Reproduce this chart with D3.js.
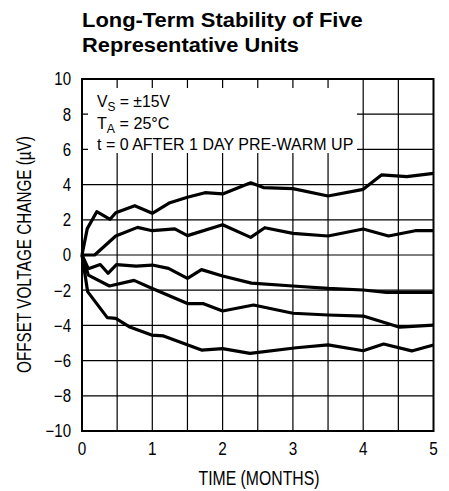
<!DOCTYPE html>
<html>
<head>
<meta charset="utf-8">
<script src="https://cdn.jsdelivr.net/npm/d3@7"></script>
<style>
  body { margin: 0; background: #fff; }
  text { font-family: "Liberation Sans", Arial, sans-serif; fill: #000; }
</style>
</head>
<body>
<svg class="chart"></svg>
<script>
const size = {w: 449, h: 491};
const plot = {left: 82, right: 433.5, top: 79, bottom: 431};

// tick values and labels
const monthTicks = [0, 1, 2, 3, 4, 5];
const monthGrid = [0.5, 1, 1.5, 2, 2.5, 3, 3.5, 4, 4.5];
const offsetTicks = [-10, -8, -6, -4, -2, 0, 2, 4, 6, 8, 10];
const offsetGrid = [-8, -6, -4, -2, 0, 2, 4, 6, 8];

// five units (months, µV)
const monthsA = [0, 0.075, 0.21, 0.4, 0.48, 0.75, 1.0, 1.25, 1.5, 1.75, 2.0, 2.4, 2.58, 3.0, 3.5, 4.0, 4.26, 4.62, 5.0];
const offsetA = [0, 1.5, 2.46, 2.03, 2.4, 2.8, 2.37, 2.97, 3.28, 3.54, 3.47, 4.1, 3.83, 3.77, 3.35, 3.73, 4.55, 4.45, 4.64];

const monthsB = [0, 0.18, 0.48, 0.79, 1.0, 1.32, 1.5, 2.0, 2.4, 2.6, 3.0, 3.5, 4.0, 4.36, 4.74, 5.0];
const offsetB = [0, 0, 1.08, 1.57, 1.38, 1.48, 1.1, 1.72, 1.0, 1.55, 1.23, 1.08, 1.48, 1.08, 1.38, 1.38];

const monthsC = [0, 0.09, 0.26, 0.37, 0.49, 0.77, 1.0, 1.23, 1.5, 1.7, 2.0, 2.41, 3.0, 3.5, 4.0, 4.33, 5.0];
const offsetC = [0, -0.78, -0.54, -1.04, -0.55, -0.63, -0.57, -0.76, -1.33, -0.83, -1.19, -1.6, -1.76, -1.9, -1.99, -2.12, -2.12];

const monthsD = [0, 0.09, 0.39, 0.74, 1.0, 1.5, 1.72, 2.0, 2.44, 3.0, 3.5, 4.0, 4.52, 5.0];
const offsetD = [0, -1.14, -1.76, -1.44, -1.9, -2.76, -2.76, -3.18, -2.84, -3.31, -3.41, -3.47, -4.1, -3.98];

const monthsE = [0, 0.08, 0.36, 0.48, 0.67, 0.99, 1.16, 1.7, 2.0, 2.39, 3.05, 3.5, 4.0, 4.29, 4.69, 5.0];
const offsetE = [0, -2.08, -3.56, -3.6, -4.07, -4.55, -4.6, -5.4, -5.32, -5.59, -5.27, -5.11, -5.44, -5.06, -5.45, -5.11];

const units = [
    [monthsA, offsetA],
    [monthsB, offsetB],
    [monthsC, offsetC],
    [monthsD, offsetD],
    [monthsE, offsetE]
];

const svg = d3.select('svg.chart')
    .attr('width', size.w)
    .attr('height', size.h);

const x = d3.scaleLinear().domain([0, 5]).range([plot.left, plot.right]);
const y = d3.scaleLinear().domain([-10, 10]).range([plot.bottom, plot.top]);

// the original uses a condensed face, so squeeze Liberation Sans to the measured width
function squeeze(sel, px, py, width, rotate) {
    const w = sel.node().getComputedTextLength();
    const sx = width / w;
    sel.attr('transform', `translate(${px},${py})` + (rotate ? ` rotate(${rotate})` : '') + ` scale(${sx},1)`);
}

// title
const t1 = svg.append('text')
    .style('font-weight', 'bold')
    .style('font-size', '21px')
    .text('Long-Term Stability of Five');
squeeze(t1, plot.left, 27.3, 281);
const t2 = svg.append('text')
    .style('font-weight', 'bold')
    .style('font-size', '21px')
    .text('Representative Units');
squeeze(t2, plot.left, 51.7, 217);

// grid
const gridG = svg.append('g').attr('stroke', '#000').attr('stroke-width', 1.2);
gridG.selectAll('line.v')
    .data(monthGrid)
    .join('line')
    .attr('class', 'v')
    .attr('x1', d => x(d)).attr('x2', d => x(d))
    .attr('y1', plot.top).attr('y2', plot.bottom);
gridG.selectAll('line.h')
    .data(offsetGrid)
    .join('line')
    .attr('class', 'h')
    .attr('x1', plot.left).attr('x2', plot.right)
    .attr('y1', d => y(d)).attr('y2', d => y(d));

// annotation box masks the grid
svg.append('rect')
    .attr('x', 88).attr('y', 88)
    .attr('width', 269).attr('height', 65)
    .attr('fill', '#fff');

const note = svg.append('g').style('font-size', '16.5px');
const l1 = note.append('text');
l1.append('tspan').text('V');
l1.append('tspan').attr('dy', 4).style('font-size', '12.5px').text('S');
l1.append('tspan').attr('dy', -4).text(' = ±15V');
squeeze(l1, 97, 107, 73);
const l2 = note.append('text');
l2.append('tspan').text('T');
l2.append('tspan').attr('dy', 4).style('font-size', '12.5px').text('A');
l2.append('tspan').attr('dy', -4).text(' = 25°C');
squeeze(l2, 97, 128.5, 72.5);
const l3 = note.append('text').text('t = 0 AFTER 1 DAY PRE-WARM UP');
squeeze(l3, 97, 150, 256.5);

// frame
svg.append('rect')
    .attr('x', plot.left).attr('y', plot.top)
    .attr('width', plot.right - plot.left)
    .attr('height', plot.bottom - plot.top)
    .attr('fill', 'none')
    .attr('stroke', '#000')
    .attr('stroke-width', 2);

// curves
const line = d3.line()
    .x(d => x(d[0]))
    .y(d => y(d[1]));

svg.append('g')
    .selectAll('path')
    .data(units.map(u => d3.zip(u[0], u[1])))
    .join('path')
    .attr('d', line)
    .attr('fill', 'none')
    .attr('stroke', '#000')
    .attr('stroke-width', 3.2)
    .attr('stroke-linejoin', 'round');

// axes labels
const fmt = d => d < 0 ? '\u2212' + Math.abs(d) : String(d);

svg.append('g')
    .selectAll('text')
    .data(offsetTicks)
    .join('text')
    .attr('text-anchor', 'end')
    .attr('transform', d => `translate(71,${y(d) + 6.3}) scale(0.85,1)`)
    .style('font-size', '17.7px')
    .text(fmt);

svg.append('g')
    .selectAll('text')
    .data(monthTicks)
    .join('text')
    .attr('text-anchor', 'middle')
    .attr('transform', d => `translate(${x(d)},455) scale(0.85,1)`)
    .style('font-size', '18px')
    .text(fmt);

const xt = svg.append('text')
    .attr('text-anchor', 'middle')
    .style('font-size', '20px')
    .text('TIME (MONTHS)');
squeeze(xt, 259, 485, 121);

const yt = svg.append('text')
    .attr('text-anchor', 'middle')
    .style('font-size', '21px')
    .text('OFFSET VOLTAGE CHANGE (µV)');
squeeze(yt, 30.5, 254.5, 237, -90);
</script>
</body>
</html>
